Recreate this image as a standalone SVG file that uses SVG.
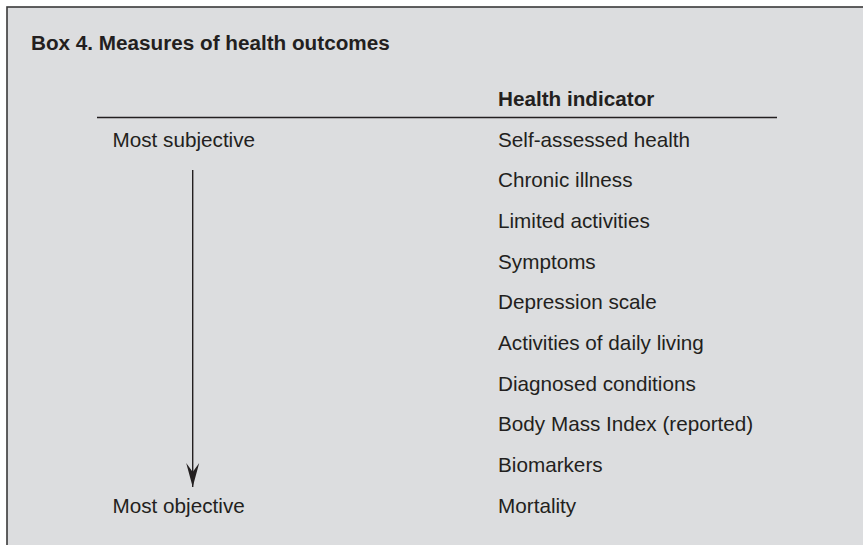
<svg xmlns="http://www.w3.org/2000/svg" width="863" height="545" viewBox="0 0 863 545">
<style>
.t{font-family:"Liberation Sans",Arial,sans-serif;font-size:20.7px;fill:#231f20}
.b{font-weight:bold}
.ln{stroke:#231f20;stroke-width:1.4;fill:none}
</style>
<defs>
<marker id="ah" viewBox="0 0 24 14" refX="24" refY="7" markerWidth="24" markerHeight="14" markerUnits="userSpaceOnUse" orient="auto">
<path d="M0,0.5 L9,7 L0,13.5 L24,7 Z" fill="#231f20"/>
</marker>
</defs>
<rect x="0" y="0" width="863" height="545" fill="#ffffff"/>
<rect id="box" x="7" y="7" width="870" height="560" fill="#dcdddf" stroke="#3a3a3a" stroke-width="1.6"/>
<text id="title" class="t b" x="31" y="50">Box 4. Measures of health outcomes</text>
<g id="header">
<text class="t b" x="498" y="106">Health indicator</text>
<line class="ln" x1="97" y1="117.5" x2="777" y2="117.5"/>
</g>
<g id="scale">
<text id="most-subjective" class="t" x="112.5" y="146.7">Most subjective</text>
<text id="most-objective" class="t" x="112.5" y="512.7">Most objective</text>
</g>
<g id="indicators">
<text id="n1" class="t" x="498" y="146.7">Self-assessed health</text>
<text id="n2" class="t" x="498" y="187.3">Chronic illness</text>
<text id="n3" class="t" x="498" y="228">Limited activities</text>
<text id="n4" class="t" x="498" y="268.7">Symptoms</text>
<text id="n5" class="t" x="498" y="309.3">Depression scale</text>
<text id="n6" class="t" x="498" y="350">Activities of daily living</text>
<text id="n7" class="t" x="498" y="390.7">Diagnosed conditions</text>
<text id="n8" class="t" x="498" y="431.3">Body Mass Index (reported)</text>
<text id="n9" class="t" x="498" y="472">Biomarkers</text>
<text id="n10" class="t" x="498" y="512.7">Mortality</text>
</g>
<g id="connectors">
<line class="ln" x1="192.7" y1="170" x2="192.7" y2="487" marker-end="url(#ah)"/>
</g>
</svg>
